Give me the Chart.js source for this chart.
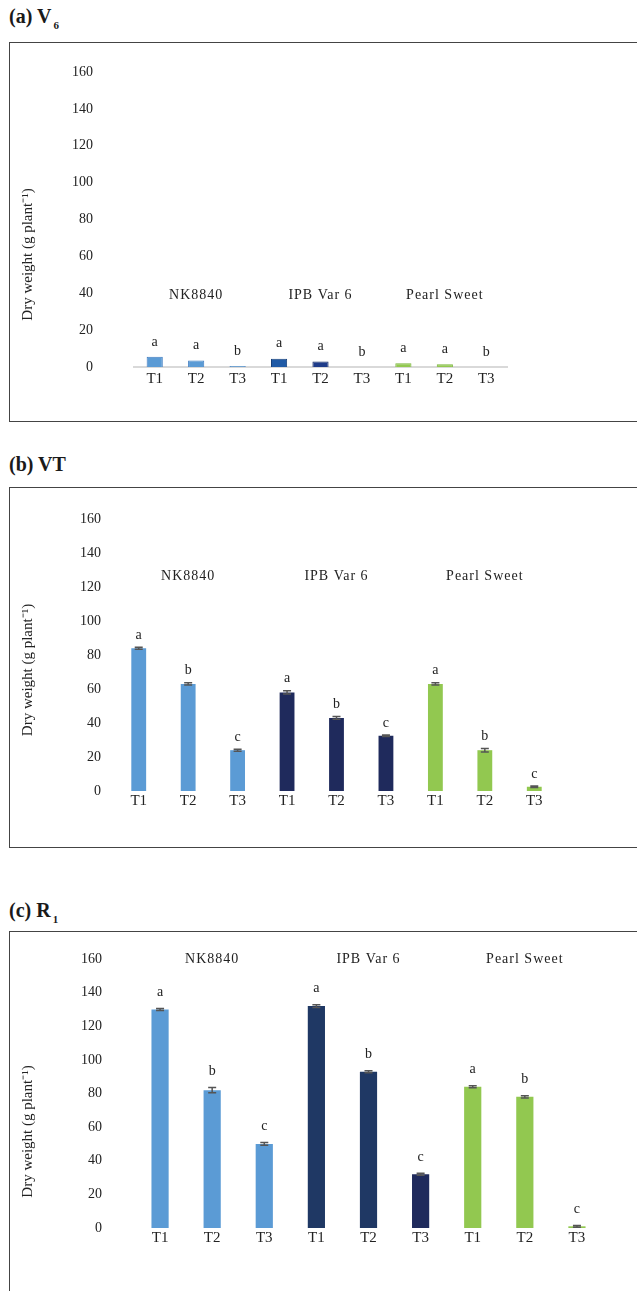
<!DOCTYPE html>
<html>
<head>
<meta charset="utf-8">
<title>Dry weight V6 / VT / R1</title>
<script src="https://cdn.jsdelivr.net/npm/chart.js@4.4.1/dist/chart.umd.min.js"></script>
<style>
  body { margin: 0; background: #fff; }
  #page { position: relative; width: 637px; height: 1291px; overflow: hidden; font-family: "Liberation Serif", serif; }
  .titulo { position: absolute; left: 9px; font-weight: bold; font-size: 20px; color: #1a1a1a; line-height: 1; }
  .titulo sub { font-size: 11px; vertical-align: -6px; margin-left: 2px; }
  .caja { position: absolute; left: 9px; width: 720px; border: 1px solid #444; }
  canvas { position: absolute; left: 10px; }
</style>
</head>
<body>
<div id="page">
  <div class="titulo" style="top:6px">(a) V<sub>6</sub></div>
  <div class="caja" style="top:42px; height:378px"></div>
  <canvas id="graficaV6" width="627" height="378" style="top:43px"></canvas>

  <div class="titulo" style="top:454px">(b) VT</div>
  <div class="caja" style="top:487px; height:359px"></div>
  <canvas id="graficaVT" width="627" height="359" style="top:488px"></canvas>

  <div class="titulo" style="top:900px">(c) R<sub>1</sub></div>
  <div class="caja" style="top:931px; height:420px"></div>
  <canvas id="graficaR1" width="627" height="359" style="top:932px"></canvas>
</div>

<script>
// --- DATOS ---
const tratamientos = ['T1', 'T2', 'T3'];
const variedades = ['NK8840', 'IPB Var 6', 'Pearl Sweet'];
const ticksY = [0, 20, 40, 60, 80, 100, 120, 140, 160];
const tituloY = 'Dry weight (g plant\u207B\u00B9)';

// (a) V6
const pesoV6 = [5.5, 3.5, 0.5, 4.5, 3, 0, 2, 1.5, 0];
const errorV6 = [0, 0, 0, 0, 0, 0, 0, 0, 0];
const letrasV6 = ['a', 'a', 'b', 'a', 'a', 'b', 'a', 'a', 'b'];

// (b) VT
const pesoVT = [84, 63, 24, 58, 43, 32.5, 63, 24, 2.5];
const errorVT = [0.6, 0.7, 0.6, 1.0, 0.8, 0.5, 0.7, 1.0, 0.5];
const letrasVT = ['a', 'b', 'c', 'a', 'b', 'c', 'a', 'b', 'c'];

// (c) R1
const pesoR1 = [130, 82, 50, 132, 93, 32, 84, 78, 1];
const errorR1 = [0.6, 1.5, 0.8, 0.8, 0.6, 0.6, 0.6, 0.7, 0.5];
const letrasR1 = ['a', 'b', 'c', 'a', 'b', 'c', 'a', 'b', 'c'];

const etiquetasX = variedades.flatMap(() => tratamientos);

Chart.defaults.font.family = '"Liberation Serif", serif';
Chart.defaults.color = '#222';

// letras de significancia, barras de error, nombre de cada variedad y titulo del eje
const pluginAnotaciones = {
    id: 'anotaciones',
    afterDatasetsDraw(chart, args, opts) {
        const { ctx, chartArea } = chart;
        const x = chart.scales.x, y = chart.scales.y;
        const datos = chart.data.datasets[0].data;
        ctx.save();
        chart.getDatasetMeta(0).data.forEach((barra, i) => {
            const v = datos[i], e = opts.errores[i];
            if (e > 0) {
                const yArriba = y.getPixelForValue(v + e);
                const yAbajo = y.getPixelForValue(v - e);
                ctx.strokeStyle = '#555';
                ctx.lineWidth = 1.5;
                ctx.beginPath();
                ctx.moveTo(barra.x, yArriba); ctx.lineTo(barra.x, yAbajo);
                ctx.moveTo(barra.x - 4, yArriba); ctx.lineTo(barra.x + 4, yArriba);
                ctx.moveTo(barra.x - 4, yAbajo); ctx.lineTo(barra.x + 4, yAbajo);
                ctx.stroke();
            }
            ctx.fillStyle = '#222';
            ctx.font = '14px "Liberation Serif"';
            ctx.textAlign = 'center';
            ctx.textBaseline = 'bottom';
            ctx.fillText(opts.letras[i], barra.x, y.getPixelForValue(v + e) - opts.separacion);
        });

        // titulo del eje Y (girado)
        ctx.save();
        ctx.font = '15px "Liberation Serif"';
        ctx.textBaseline = 'middle';
        ctx.translate(18, (chartArea.top + chartArea.bottom) / 2 + opts.tituloDy);
        ctx.rotate(-Math.PI / 2);
        ctx.fillText(tituloY, 0, 0);
        ctx.restore();

        ctx.letterSpacing = '1px';
        ctx.textBaseline = 'middle';
        variedades.forEach((nombre, g) => {
            const cx = x.getPixelForValue(g * tratamientos.length + 1);
            ctx.fillText(nombre, cx, chartArea.top + opts.alturaGrupo);
        });
        ctx.restore();
    }
};

function crearGrafica(id, valores, errores, letras, cfg) {
    return new Chart(document.getElementById(id), {
        type: 'bar',
        data: {
            labels: etiquetasX,
            datasets: [{
                data: valores,
                backgroundColor: cfg.colores,
                borderColor: cfg.bordes,
                borderWidth: cfg.borde,
                barPercentage: cfg.barra,
                categoryPercentage: 1
            }]
        },
        options: {
            responsive: false,
            animation: false,
            layout: { padding: { top: cfg.padTop, right: cfg.padRight, left: 0, bottom: 0 } },
            plugins: {
                legend: { display: false },
                tooltip: { enabled: false },
                anotaciones: {
                    errores: errores, letras: letras, separacion: cfg.separacion,
                    alturaGrupo: cfg.alturaGrupo, tituloDy: cfg.tituloDy
                }
            },
            scales: {
                x: {
                    grid: { display: false, drawTicks: false },
                    border: { display: cfg.lineaBase, color: '#d9d9d9', width: 2 },
                    ticks: { font: { size: 15 }, padding: cfg.padX, maxRotation: 0, autoSkip: false },
                    afterFit: s => { s.height = cfg.altoX; }
                },
                y: {
                    min: 0,
                    max: 160,
                    grid: { display: false, drawTicks: false },
                    border: { display: false },
                    ticks: { font: { size: 14 }, padding: cfg.padY },
                    afterBuildTicks: s => { s.ticks = ticksY.map(v => ({ value: v })); },
                    afterFit: s => {
                        s.width = cfg.anchoY;
                        // el padding de las etiquetas no debe empujar el area del grafico
                        s.paddingTop = 0;
                        s.paddingBottom = 0;
                    }
                }
            }
        },
        plugins: [pluginAnotaciones]
    });
}

const azul = '#5b9bd5', verde = '#92c850';

crearGrafica('graficaV6', pesoV6, errorV6, letrasV6, {
    colores: [azul, azul, azul, '#1f5aa6', '#1f3c8a', '#1f3c8a', verde, verde, verde],
    bordes: ['#3f7cc0', '#3f7cc0', '#3f7cc0', '#17407a', '#162c66', '#162c66', '#7ab53b', '#7ab53b', '#7ab53b'],
    borde: 1, barra: 0.39,
    padTop: 29, padRight: 130, altoX: 54, padX: 3,
    anchoY: 124, padY: 41,
    separacion: 8, alturaGrupo: 223, lineaBase: true, tituloDy: 35
});

crearGrafica('graficaVT', pesoVT, errorVT, letrasVT, {
    colores: [azul, azul, azul, '#1f2a5c', '#1f2a5c', '#1f2a5c', verde, verde, verde],
    bordes: '#ffffff', borde: 0, barra: 0.30,
    padTop: 31, padRight: 78, altoX: 56, padX: 1,
    anchoY: 104, padY: 13,
    separacion: 5, alturaGrupo: 57, lineaBase: false, tituloDy: 15
});

crearGrafica('graficaR1', pesoR1, errorR1, letrasR1, {
    colores: [azul, azul, azul, '#1f3864', '#1f3864', '#1f2a5c', verde, verde, verde],
    bordes: '#ffffff', borde: 0, barra: 0.33,
    padTop: 27, padRight: 34, altoX: 63, padX: 1,
    anchoY: 124, padY: 32,
    separacion: 9, alturaGrupo: 0, lineaBase: false, tituloDy: 38
});
</script>
</body>
</html>
